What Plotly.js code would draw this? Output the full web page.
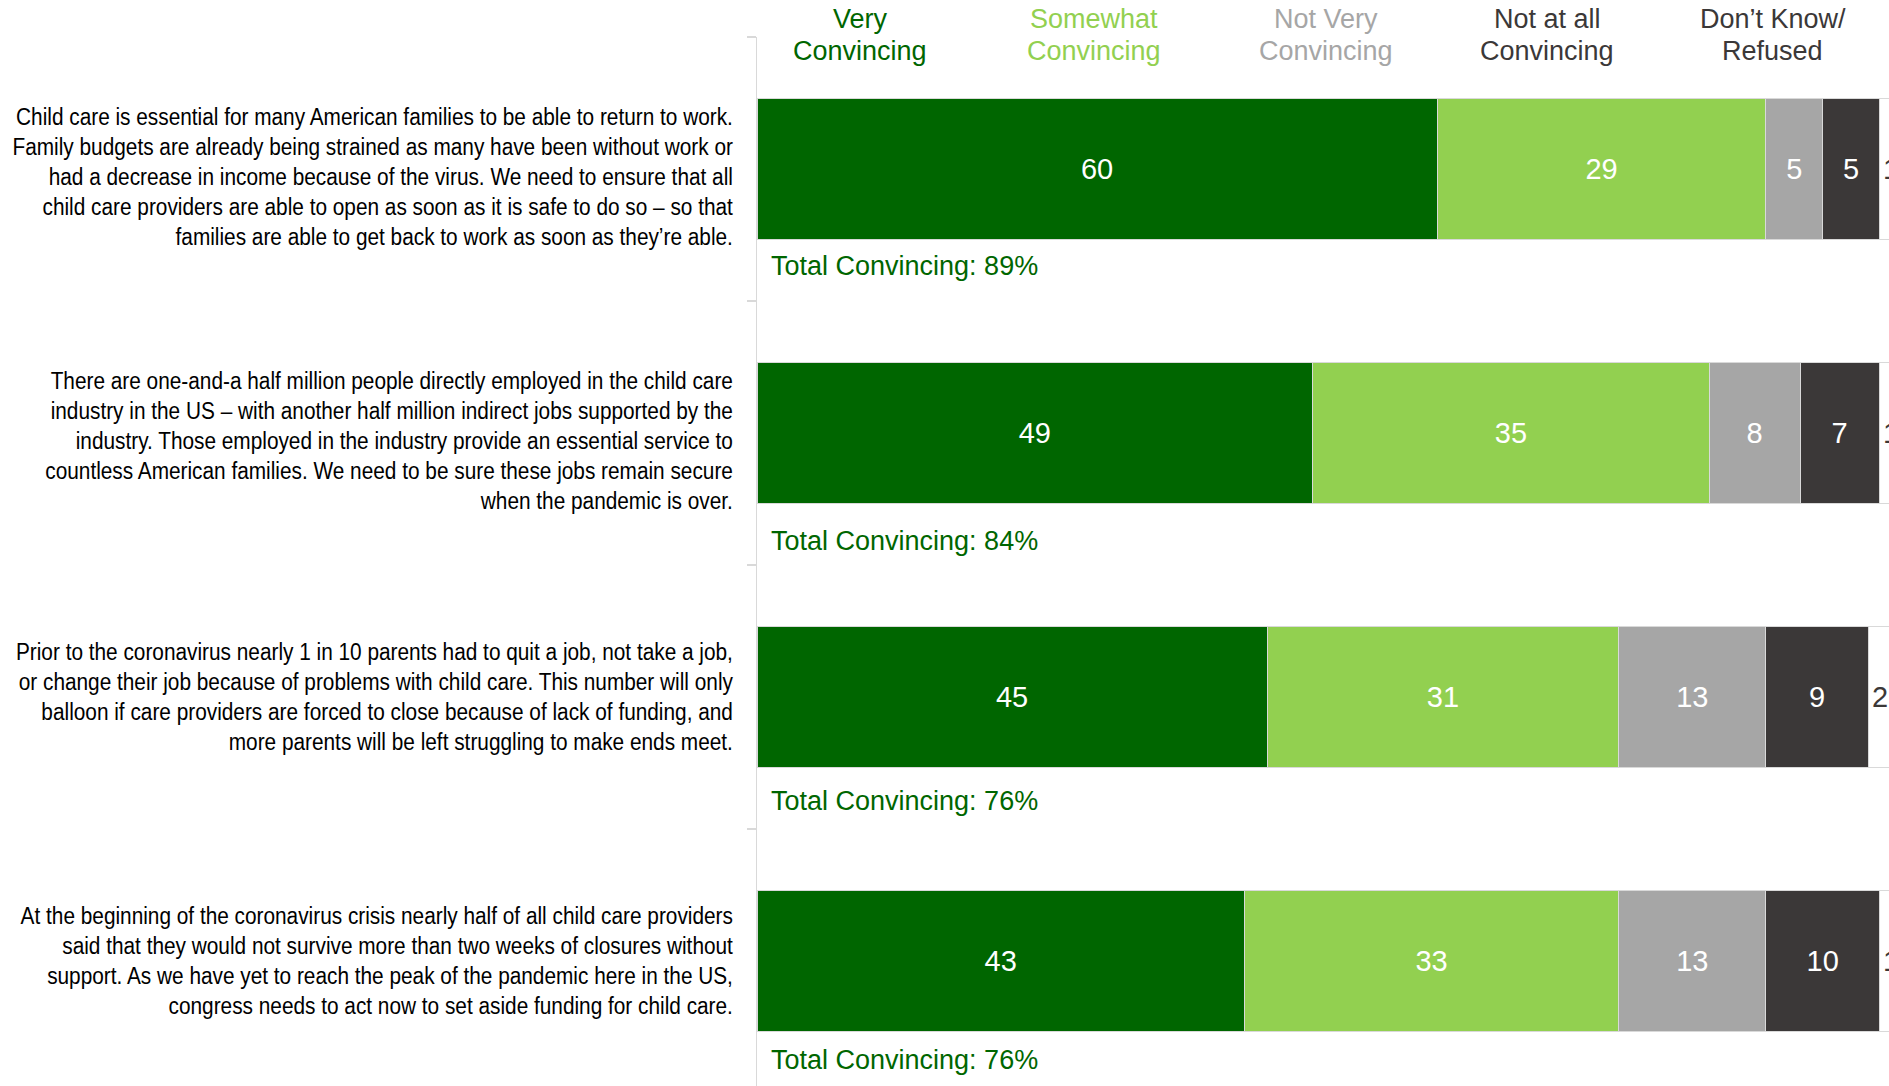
<!DOCTYPE html>
<html>
<head>
<meta charset="utf-8">
<script src="https://cdn.plot.ly/plotly-3.0.1.min.js"></script>
<style>
  html, body { margin: 0; padding: 0; overflow: hidden; background: #fff; }
  #chart { width: 1889px; height: 1086px; }
</style>
</head>
<body>
<div id="chart"></div>
<script>
// ---------- DATA ----------
const categories = [
  "Child care is essential for many American families to be able to return to work.<br>Family budgets are already being strained as many have been without work or<br>had a decrease in income because of the virus. We need to ensure that all<br>child care providers are able to open as soon as it is safe to do so – so that<br>families are able to get back to work as soon as they’re able.",
  "There are one-and-a half million people directly employed in the child care<br>industry in the US – with another half million indirect jobs supported by the<br>industry. Those employed in the industry provide an essential service to<br>countless American families. We need to be sure these jobs remain secure<br>when the pandemic is over.",
  "Prior to the coronavirus nearly 1 in 10 parents had to quit a job, not take a job,<br>or change their job because of problems with child care. This number will only<br>balloon if care providers are forced to close because of lack of funding, and<br>more parents will be left struggling to make ends meet.",
  "At the beginning of the coronavirus crisis nearly half of all child care providers<br>said that they would not survive more than two weeks of closures without<br>support. As we have yet to reach the peak of the pandemic here in the US,<br>congress needs to act now to set aside funding for child care."
];
const seriesNames = ["Very Convincing", "Somewhat Convincing", "Not Very Convincing", "Not at all Convincing", "Don’t Know/Refused"];
const headerLines1 = ["Very", "Somewhat", "Not Very", "Not at all", "Don’t Know/"];
const headerLines2 = ["Convincing", "Convincing", "Convincing", "Convincing", "Refused"];
const veryConvincing     = [60, 49, 45, 43];
const somewhatConvincing = [29, 35, 31, 33];
const notVeryConvincing  = [5, 8, 13, 13];
const notAtAllConvincing = [5, 7, 9, 10];
const dontKnowRefused    = [1, 1, 2, 1];
const totalLabelPrefix = "Total Convincing: ";

// ---------- STYLE ----------
const colors = ["#006600", "#92D050", "#A6A6A6", "#3B3838", "#FFFFFF"];
const headerColors = ["#006600", "#92D050", "#A6A6A6", "#3B3838", "#3B3838"];
const headerX = [9.1, 29.7, 50.2, 69.7, 89.6];
const totalOffsets = [0.367, 0.409, 0.394, 0.375];
const sans = "Liberation Sans, Arial, sans-serif";
const labelCondense = 0.905;   // imitate Arial Narrow

const series = [veryConvincing, somewhatConvincing, notVeryConvincing, notAtAllConvincing, dontKnowRefused];

const traces = series.map((vals, k) => ({
  type: "bar",
  orientation: "h",
  name: seriesNames[k],
  x: vals,
  y: categories,
  width: 0.535,
  marker: { color: colors[k], line: { color: "#D9D9D9", width: 1 } },
  text: k < 4 ? vals.map(String) : undefined,
  textposition: k < 4 ? "inside" : "none",
  insidetextanchor: "middle",
  constraintext: "none",
  textfont: { family: sans, size: 29, color: "#FFFFFF" },
  hoverinfo: "skip"
}));

const annotations = [];
// header labels (two lines each)
headerLines1.forEach((t, k) => {
  annotations.push({
    xref: "x", yref: "paper", x: headerX[k], y: 1, yanchor: "middle", xanchor: "center",
    yshift: 18, text: t, showarrow: false,
    font: { family: sans, size: 27, color: headerColors[k] }
  });
  annotations.push({
    xref: "x", yref: "paper", x: headerX[k], y: 1, yanchor: "middle", xanchor: "center",
    yshift: -14, text: headerLines2[k], showarrow: false,
    font: { family: sans, size: 27, color: headerColors[k] }
  });
});
// total convincing + DK labels
categories.forEach((c, i) => {
  const total = veryConvincing[i] + somewhatConvincing[i];
  annotations.push({
    xref: "x", yref: "y", x: 0, y: i + totalOffsets[i], xanchor: "left", yanchor: "middle",
    xshift: 12, text: totalLabelPrefix + total + "%", showarrow: false,
    font: { family: sans, size: 27, color: "#006600" }
  });
  const start = veryConvincing[i] + somewhatConvincing[i] + notVeryConvincing[i] + notAtAllConvincing[i];
  annotations.push({
    xref: "x", yref: "y", x: start, y: i, xanchor: "left", yanchor: "middle",
    xshift: 2, text: String(dontKnowRefused[i]), showarrow: false,
    font: { family: sans, size: 29, color: "#3B3838" }
  });
});

const layout = {
  width: 1889, height: 1086,
  margin: { l: 757, r: 0, t: 37, b: 0, pad: 0 },
  barmode: "stack",
  showlegend: false,
  paper_bgcolor: "#FFFFFF", plot_bgcolor: "#FFFFFF",
  xaxis: { range: [0, 99.85], visible: false, fixedrange: true },
  yaxis: {
    type: "category",
    range: [3.473, -0.5],
    showline: true, linecolor: "#D9D9D9", linewidth: 1.5,
    ticks: "outside", ticklen: 9, tickwidth: 1.5, tickcolor: "#D9D9D9",
    tickson: "boundaries",
    ticklabelstandoff: 18,
    showgrid: false, zeroline: false,
    tickfont: { family: sans, size: 23, color: "#000000" },
    automargin: false, fixedrange: true
  },
  annotations: annotations
};

Plotly.newPlot("chart", traces, layout, { displayModeBar: false, staticPlot: true }).then(() => {
  // condense the long statement labels horizontally (narrow-font look), anchored at their right edge
  document.querySelectorAll("#chart g.ytick text").forEach(t => {
    const x = parseFloat(t.getAttribute("x")) || 0;
    const lines = t.querySelectorAll("tspan.line").length;
    const dy = lines >= 5 ? 8 : 0;
    const prev = t.getAttribute("transform") || "";
    t.setAttribute("transform", prev + " translate(" + x + "," + dy + ") scale(" + labelCondense + ",1) translate(" + (-x) + ",0)");
  });
});
</script>
</body>
</html>
